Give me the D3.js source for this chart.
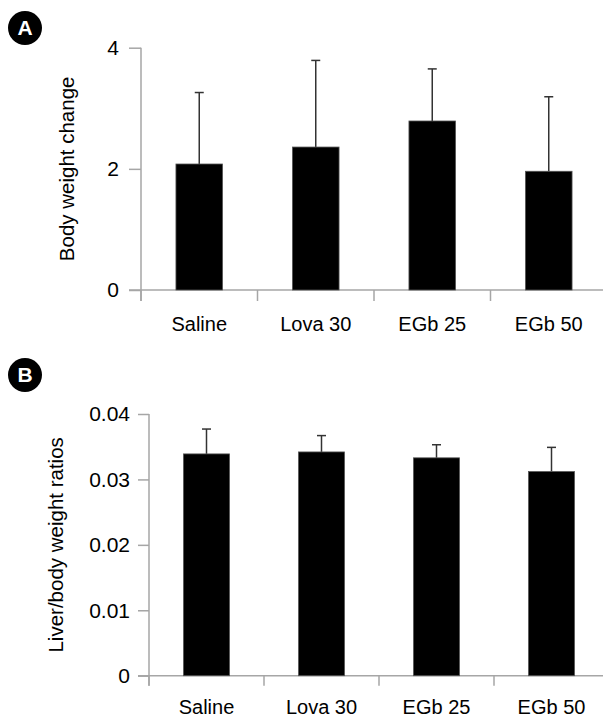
<!DOCTYPE html>
<html>
<head>
<meta charset="utf-8">
<script src="https://cdn.jsdelivr.net/npm/d3@7"></script>
<style>
  body { margin: 0; background: #fff; }
  svg { display: block; font-family: "Liberation Sans", Arial, sans-serif; }
</style>
</head>
<body>
<svg id="chart" width="603" height="717"></svg>
<script>
// groups shared by both panels
const groups = ["Saline", "Lova 30", "EGb 25", "EGb 50"];

// panel A: body weight change
const weightMean = [2.08, 2.36, 2.79, 1.96];
const weightErr = [1.18, 1.43, 0.86, 1.23];
const weightTicks = [0, 2, 4];

// panel B: liver/body weight ratios
const liverMean = [0.0339, 0.0342, 0.0333, 0.0312];
const liverErr = [0.0038, 0.0025, 0.0020, 0.0037];
const liverTicks = [0, 0.01, 0.02, 0.03, 0.04];

const svg = d3.select("#chart");
const axisColor = "#a6a6a6";

function drawPanel(opts) {
    const g = svg.append("g");
    const data = groups.map((name, i) => ({ name, mean: opts.mean[i], err: opts.err[i] }));

    const x = d3.scaleBand()
        .domain(groups)
        .range([opts.left, opts.right])
        .paddingInner(0.6)
        .paddingOuter(0.3);

    const y = d3.scaleLinear()
        .domain([0, d3.max(opts.ticks)])
        .range([opts.bottom, opts.top]);

    const y0 = y(0);

    // y axis ticks + labels
    const yAxis = g.append("g")
        .attr("transform", `translate(${opts.left},0)`)
        .call(d3.axisLeft(y).tickValues(opts.ticks).tickSize(opts.tick).tickSizeOuter(0).tickPadding(opts.tickPad).tickFormat(opts.fmt));
    yAxis.select(".domain").remove();
    yAxis.selectAll(".tick line").attr("stroke", axisColor).attr("stroke-width", 1.5);
    yAxis.selectAll(".tick text")
        .attr("fill", "#000")
        .style("font-size", opts.tickFont + "px");

    // axis lines
    g.append("line")
        .attr("x1", opts.left).attr("x2", opts.left)
        .attr("y1", y(d3.max(opts.ticks))).attr("y2", y0 + opts.tick - 1)
        .attr("stroke", axisColor).attr("stroke-width", 1.5);
    g.append("line")
        .attr("x1", opts.left - opts.tick).attr("x2", 603)
        .attr("y1", y0).attr("y2", y0)
        .attr("stroke", axisColor).attr("stroke-width", 1.5);

    // x ticks at category boundaries
    const edge = d => x(d) - x.step() * x.paddingOuter();
    g.selectAll(".xtick")
        .data(groups)
        .enter()
        .append("line")
        .attr("x1", d => edge(d)).attr("x2", d => edge(d))
        .attr("y1", y0).attr("y2", y0 + opts.tick - 1)
        .attr("stroke", axisColor).attr("stroke-width", 1.5);

    // category labels
    g.selectAll(".xlabel")
        .data(groups)
        .enter()
        .append("text")
        .attr("x", d => x(d) + x.bandwidth() / 2)
        .attr("y", opts.labelY)
        .attr("text-anchor", "middle")
        .style("font-size", "20px")
        .text(d => d);

    // error bars (upper only)
    const cap = 4.5;
    const eb = g.selectAll(".err")
        .data(data)
        .enter()
        .append("g")
        .attr("stroke", "#333")
        .attr("stroke-width", 1.5);
    eb.append("line")
        .attr("x1", d => x(d.name) + x.bandwidth() / 2)
        .attr("x2", d => x(d.name) + x.bandwidth() / 2)
        .attr("y1", d => y(d.mean))
        .attr("y2", d => y(d.mean + d.err));
    eb.append("line")
        .attr("x1", d => x(d.name) + x.bandwidth() / 2 - cap)
        .attr("x2", d => x(d.name) + x.bandwidth() / 2 + cap)
        .attr("y1", d => y(d.mean + d.err))
        .attr("y2", d => y(d.mean + d.err));

    // bars
    g.selectAll(".bar")
        .data(data)
        .enter()
        .append("rect")
        .attr("x", d => x(d.name))
        .attr("y", d => y(d.mean))
        .attr("width", x.bandwidth())
        .attr("height", d => y0 - y(d.mean))
        .attr("fill", "#000")
        .attr("stroke", "#555")
        .attr("stroke-width", 0.8);

    // y title
    g.append("text")
        .attr("transform", `translate(${opts.titleX},${(y(d3.max(opts.ticks)) + y0) / 2 + opts.titleDy}) rotate(-90)`)
        .attr("text-anchor", "middle")
        .style("font-size", "20.5px")
        .text(opts.title);

    // panel letter
    g.append("circle")
        .attr("cx", 25).attr("cy", opts.badgeY).attr("r", 17)
        .attr("fill", "#000");
    g.append("text")
        .attr("x", 25).attr("y", opts.badgeY + 7)
        .attr("text-anchor", "middle")
        .attr("fill", "#fff")
        .style("font-size", "21px")
        .style("font-weight", "bold")
        .text(opts.letter);
}

drawPanel({
    letter: "A", badgeY: 28,
    mean: weightMean, err: weightErr, ticks: weightTicks,
    fmt: d3.format("d"),
    left: 141, right: 607, top: 47.7, bottom: 290,
    tick: 12, tickPad: 10, tickFont: 21,
    labelY: 331,
    title: "Body weight change", titleX: 74, titleDy: 0
});

drawPanel({
    letter: "B", badgeY: 375,
    mean: liverMean, err: liverErr, ticks: liverTicks,
    fmt: d => d === 0 ? "0" : d3.format(".2f")(d),
    left: 149, right: 609, top: 414, bottom: 675.7,
    tick: 11, tickPad: 8, tickFont: 21,
    labelY: 714,
    title: "Liver/body weight ratios", titleX: 63, titleDy: 0
});
</script>
</body>
</html>
